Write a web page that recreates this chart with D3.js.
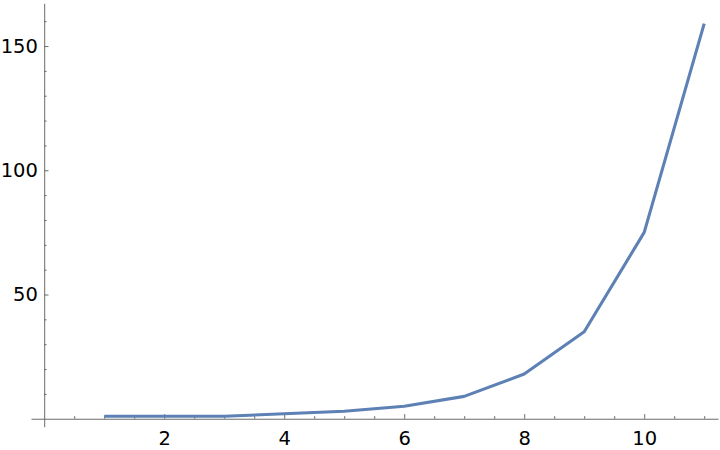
<!DOCTYPE html>
<html>
<head>
<meta charset="utf-8">
<script src="https://cdn.jsdelivr.net/npm/d3@7"></script>
<style>
  body { margin: 0; background: #fff; }
  svg { display: block; }
  .axis text { font-family: "DejaVu Sans", sans-serif; font-size: 19.5px; fill: #000; }
  .axis path, .axis line { stroke: #6b6b6b; stroke-width: 1; }
</style>
</head>
<body>
<div id="chart"></div>
<script>
// data
var xs = [1, 2, 3, 4, 5, 6, 7, 8, 9, 10, 11];
var ys = [1, 1, 1, 2, 3, 5, 9, 18, 35, 75, 159];

var xMajor = [2, 4, 6, 8, 10];
var yMajor = [50, 100, 150];

var width = 720, height = 450;

var svg = d3.select("#chart").append("svg")
    .attr("width", width)
    .attr("height", height);

var x = d3.scaleLinear().domain([-0.22, 11.23]).range([31, 718]);
var y = d3.scaleLinear().domain([-3.2, 167.2]).range([426.7, 3.3]);

var xMinor = d3.range(0.5, 11.01, 0.5).filter(function (v) { return v % 2 !== 0; });
var yMinor = d3.range(10, 161, 10).filter(function (v) { return v % 50 !== 0; });

var x0 = x(0), y0 = y(0);

// minor ticks first, no labels
svg.append("g")
    .attr("class", "axis")
    .attr("transform", "translate(0," + y0 + ")")
    .call(d3.axisBottom(x).tickValues(xMinor).tickFormat("").tickSize(-2.6).tickSizeOuter(0))
    .select(".domain").remove();

svg.append("g")
    .attr("class", "axis")
    .attr("transform", "translate(" + x0 + ",0)")
    .call(d3.axisLeft(y).tickValues(yMinor).tickFormat("").tickSize(-2.4).tickSizeOuter(0))
    .select(".domain").remove();

// major ticks and axis lines
svg.append("g")
    .attr("class", "axis")
    .attr("transform", "translate(0," + y0 + ")")
    .call(d3.axisBottom(x).tickValues(xMajor).tickSize(-4.6).tickSizeOuter(0).tickPadding(12.3));

svg.append("g")
    .attr("class", "axis")
    .attr("transform", "translate(" + x0 + ",0)")
    .call(d3.axisLeft(y).tickValues(yMajor).tickSize(-4.3).tickSizeOuter(0).tickPadding(6.3));

var line = d3.line()
    .x(function (d, i) { return x(xs[i]); })
    .y(function (d) { return y(d); });

svg.append("path")
    .datum(ys)
    .attr("fill", "none")
    .attr("stroke", "#5e81b5")
    .attr("stroke-width", 3.1)
    .attr("stroke-linejoin", "round")
    .attr("d", line);
</script>
</body>
</html>
